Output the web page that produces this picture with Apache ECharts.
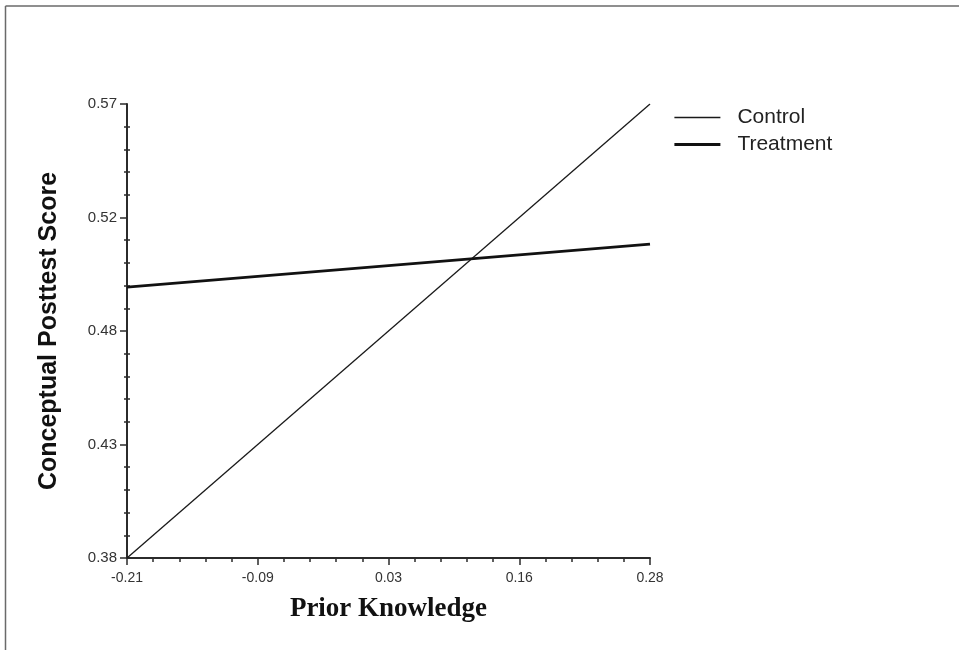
<!DOCTYPE html>
<html>
<head>
<meta charset="utf-8">
<script src="https://cdn.jsdelivr.net/npm/echarts@6/dist/echarts.min.js"></script>
<style>html,body{margin:0;padding:0;background:#fff;}#c{width:959px;height:650px;}</style>
</head>
<body>
<div id="c"></div>
<script>
// Data
var seriesNames = ['Control', 'Treatment'];
var priorKnowledge = [-0.21, 0.28];
var controlScores = [0.38, 0.57];
var treatmentScores = [0.4934, 0.5114];

// Axis ticks
var xTickValues = [-0.21, -0.0875, 0.035, 0.1575, 0.28];
var xTickLabels = ['-0.21', '-0.09', '0.03', '0.16', '0.28'];
var yTickValues = [0.38, 0.4275, 0.475, 0.5225, 0.57];
var yTickLabels = ['0.38', '0.43', '0.48', '0.52', '0.57'];

function minors(vals) {
  var out = [];
  for (var i = 0; i < vals.length - 1; i++) {
    for (var k = 1; k < 5; k++) out.push(vals[i] + (vals[i + 1] - vals[i]) * k / 5);
  }
  return out;
}
function labelFor(vals, labels) {
  return function (v) {
    var best = 0;
    for (var i = 1; i < vals.length; i++) if (Math.abs(vals[i] - v) < Math.abs(vals[best] - v)) best = i;
    return labels[best];
  };
}
function pairs(xs, ys) { return xs.map(function (x, i) { return [x, ys[i]]; }); }

var axisColor = '#2b2b2b';
var lineWidths = [1.3, 2.8];
var chart = echarts.init(document.getElementById('c'));
chart.setOption({
  backgroundColor: '#fff',
  animation: false,
  grid: { left: 127, right: 309, top: 104, bottom: 92, containLabel: false },
  legend: {
    orient: 'vertical', left: 673, top: 107, padding: 0,
    itemWidth: 46, itemHeight: 14, itemGap: 6,
    data: [
      { name: seriesNames[0], lineStyle: { width: lineWidths[0], color: '#1a1a1a' } },
      { name: seriesNames[1], lineStyle: { width: lineWidths[1], color: '#111' } }
    ],
    itemStyle: { opacity: 0 },
    textStyle: { fontFamily: 'Liberation Sans', fontSize: 21, color: '#222', padding: [0, 0, 0, 12] }
  },
  graphic: [
    { type: 'line', shape: { x1: 5.5, y1: 6, x2: 959, y2: 6 }, style: { stroke: '#6a6a6a', lineWidth: 1.5 } },
    { type: 'line', shape: { x1: 5.5, y1: 6, x2: 5.5, y2: 650 }, style: { stroke: '#6a6a6a', lineWidth: 1.5 } }
  ],
  xAxis: [{
    type: 'value', min: -0.21, max: 0.28, position: 'bottom',
    name: 'Prior Knowledge', nameLocation: 'middle', nameGap: 38,
    nameTextStyle: { fontFamily: 'Liberation Serif', fontWeight: 'bold', fontSize: 27, color: '#111' },
    axisLine: { show: true, onZero: false, lineStyle: { color: axisColor, width: 2 } },
    axisTick: { show: true, customValues: xTickValues, length: 7, lineStyle: { color: axisColor, width: 1.5 } },
    axisLabel: { customValues: xTickValues, formatter: labelFor(xTickValues, xTickLabels), margin: 13,
      fontFamily: 'Liberation Sans', fontSize: 14, color: '#333' },
    splitLine: { show: false }
  }, {
    type: 'value', min: -0.21, max: 0.28, position: 'bottom', gridIndex: 0,
    axisLine: { show: false, onZero: false },
    axisTick: { show: true, customValues: minors(xTickValues), length: 4, lineStyle: { color: axisColor, width: 1.5 } },
    axisLabel: { show: false },
    splitLine: { show: false }
  }],
  yAxis: [{
    type: 'value', min: 0.38, max: 0.57, position: 'left',
    name: 'Conceptual Posttest Score', nameLocation: 'middle', nameGap: 65,
    nameTextStyle: { fontFamily: 'Liberation Sans', fontWeight: 'bold', fontSize: 25, color: '#111' },
    axisLine: { show: true, onZero: false, lineStyle: { color: axisColor, width: 2 } },
    axisTick: { show: true, customValues: yTickValues, length: 7, lineStyle: { color: axisColor, width: 1.5 } },
    axisLabel: { customValues: yTickValues, formatter: labelFor(yTickValues, yTickLabels), margin: 10,
      fontFamily: 'Liberation Sans', fontSize: 15, color: '#333' },
    splitLine: { show: false }
  }, {
    type: 'value', min: 0.38, max: 0.57, position: 'left', offset: 0,
    axisLine: { show: false, onZero: false },
    axisTick: { show: true, customValues: minors(yTickValues), length: 3, lineStyle: { color: axisColor, width: 1.5 } },
    axisLabel: { show: false },
    splitLine: { show: false }
  }, {
    type: 'value', min: 0.38, max: 0.57, position: 'left', offset: 0,
    axisLine: { show: false, onZero: false },
    axisTick: { show: true, inside: true, customValues: minors(yTickValues), length: 3, lineStyle: { color: axisColor, width: 1.5 } },
    axisLabel: { show: false },
    splitLine: { show: false }
  }],
  series: [{
    name: seriesNames[0], type: 'line', xAxisIndex: 0, yAxisIndex: 0,
    data: pairs(priorKnowledge, controlScores),
    symbol: 'none', lineStyle: { color: '#1a1a1a', width: lineWidths[0] }, itemStyle: { color: '#1a1a1a' }
  }, {
    name: seriesNames[1], type: 'line', xAxisIndex: 0, yAxisIndex: 0,
    data: pairs(priorKnowledge, treatmentScores),
    symbol: 'none', lineStyle: { color: '#111', width: lineWidths[1] }, itemStyle: { color: '#111' }
  }]
});
</script>
</body>
</html>
